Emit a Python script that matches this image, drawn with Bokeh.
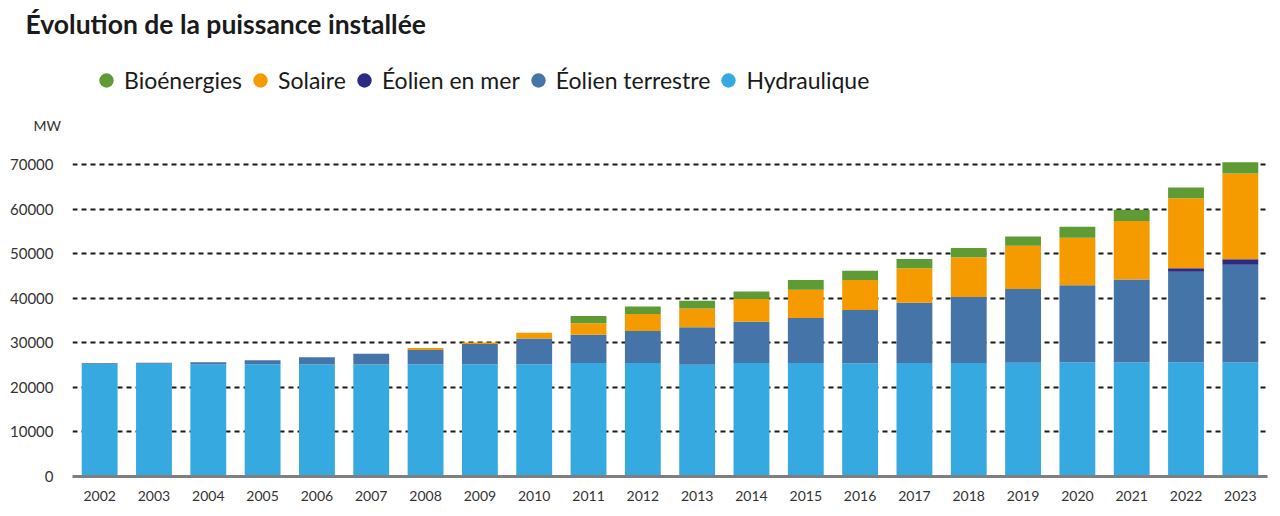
from bokeh.plotting import figure
from bokeh.layouts import column
from bokeh.models import (FactorRange, Range1d, FixedTicker, NumeralTickFormatter,
                          Legend, LegendItem, Label, ColumnDataSource)
from bokeh.embed import file_html
from bokeh.resources import INLINE

years = ["2002", "2003", "2004", "2005", "2006", "2007", "2008", "2009", "2010", "2011", "2012",
         "2013", "2014", "2015", "2016", "2017", "2018", "2019", "2020", "2021", "2022", "2023"]
hydraulique = [25300, 25300, 25200, 25200, 25200, 25100, 25200, 25200, 25200, 25450, 25450,
               25050, 25450, 25450, 25400, 25450, 25450, 25500, 25550, 25550, 25550, 25550]
eolien_terrestre = [150, 200, 450, 850, 1550, 2450, 3200, 4500, 5750, 6350, 7200,
                    8400, 9250, 10100, 11950, 13550, 14800, 16550, 17350, 18650, 20350, 21950]
eolien_mer = [0, 0, 0, 0, 0, 0, 0, 0, 0, 0, 0,
              0, 0, 0, 0, 0, 0, 0, 0, 0, 800, 1250]
solaire = [0, 0, 0, 0, 0, 0, 450, 350, 1300, 2550, 3800,
           4250, 5100, 6350, 6700, 7700, 8900, 9700, 10650, 13100, 15700, 19200]
bioenergies = [0, 0, 0, 0, 0, 0, 0, 0, 0, 1650, 1700,
               1700, 1700, 2150, 2100, 2100, 2100, 2100, 2450, 2550, 2450, 2550]
y_ticks = [0, 10000, 20000, 30000, 40000, 50000, 60000, 70000]

series = ["hydraulique", "eolien_terrestre", "eolien_mer", "solaire", "bioenergies"]
colors = ["#36a9e1", "#4574a9", "#2d2a86", "#f59b00", "#5f9b34"]
names = ["Hydraulique", "Éolien terrestre", "Éolien en mer", "Solaire", "Bioénergies"]
legend_order = ["Bioénergies", "Solaire", "Éolien en mer", "Éolien terrestre", "Hydraulique"]

source = ColumnDataSource(dict(years=years, hydraulique=hydraulique,
                               eolien_terrestre=eolien_terrestre, eolien_mer=eolien_mer,
                               solaire=solaire, bioenergies=bioenergies))

FONT = "Lato"
W = 1272
HEAD_H = 155
MAIN_H = 358

# ---------- header: title, legend, unit ----------
head = figure(width=W, height=HEAD_H, x_range=Range1d(0, W), y_range=Range1d(0, HEAD_H),
              output_backend="svg", toolbar_location=None, min_border=0,
              x_axis_location=None, y_axis_location=None)
head.frame_align = False
head.grid.visible = False
head.outline_line_color = None

head.add_layout(Label(x=25, y=132, text="Évolution de la puissance installée", text_font=FONT,
                      text_font_style="bold", text_font_size="26.5px", text_color="#1a1a1a",
                      text_baseline="middle", text_align="left"))
head.add_layout(Label(x=33, y=30, text="MW", text_font=FONT, text_font_size="14px",
                      text_color="#333333", text_baseline="middle", text_align="left"))

dummies = {}
for name, c in zip(names, colors):
    dummies[name] = head.scatter(x=[0], y=[float("nan")], marker="circle", size=15,
                                 fill_color=c, line_color=None)

legend = Legend(items=[LegendItem(label=n, renderers=[dummies[n]]) for n in legend_order],
                orientation="horizontal", location=(88, 57),
                label_text_font=FONT, label_text_font_size="23px", label_text_color="#1a1a1a",
                glyph_width=36, glyph_height=36, label_standoff=0, spacing=0,
                padding=0, margin=0, background_fill_alpha=0, border_line_color=None)
head.add_layout(legend)

# ---------- main chart ----------
p = figure(width=W, height=MAIN_H, x_range=FactorRange(*years, range_padding=0),
           y_range=Range1d(0, 72000), output_backend="svg", toolbar_location=None,
           min_border_left=72, min_border_right=5, min_border_bottom=37, min_border_top=0)
p.frame_align = False

p.vbar_stack(series, x="years", width=0.66, color=colors, line_color=None, source=source)

p.outline_line_color = None
p.xgrid.grid_line_color = None
p.ygrid.grid_line_color = "#1a1a1a"
p.ygrid.grid_line_width = 2
p.ygrid.grid_line_dash = "5 4"

p.yaxis.ticker = FixedTicker(ticks=y_ticks)
p.yaxis.formatter = NumeralTickFormatter(format="0")
p.yaxis.axis_line_color = None
p.yaxis.major_tick_line_color = None
p.yaxis.minor_tick_line_color = None
p.yaxis.major_label_standoff = 13
p.yaxis.major_label_text_font = FONT
p.yaxis.major_label_text_font_size = "15px"
p.yaxis.major_label_text_color = "#333333"

p.xaxis.axis_line_color = "#7f7f7f"
p.xaxis.axis_line_width = 3
p.xaxis.major_tick_line_color = None
p.xaxis.minor_tick_line_color = None
p.xaxis.major_label_standoff = 8
p.xaxis.major_label_text_font = FONT
p.xaxis.major_label_text_font_size = "14px"
p.xaxis.major_label_text_color = "#333333"

layout = column(head, p, spacing=0)
open("out.html", "w").write(file_html(layout, INLINE))
